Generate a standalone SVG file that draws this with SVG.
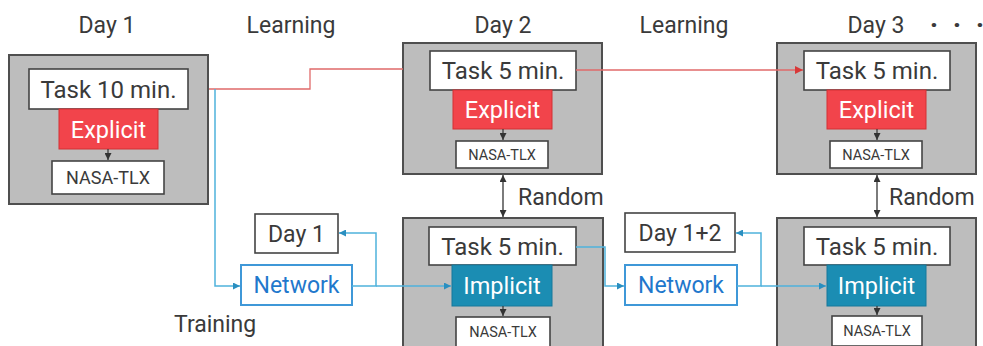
<svg xmlns="http://www.w3.org/2000/svg" width="983" height="346" viewBox="0 0 983 346">
  <defs>
    <marker id="ah-dark" viewBox="0 0 10 10" refX="10" refY="5" markerWidth="7" markerHeight="7" markerUnits="userSpaceOnUse" orient="auto-start-reverse">
      <path d="M0,0 L10,5 L0,10 z" fill="#333"/>
    </marker>
    <marker id="ah-blue" viewBox="0 0 10 10" refX="10" refY="5" markerWidth="7" markerHeight="7" markerUnits="userSpaceOnUse" orient="auto">
      <path d="M0,0 L10,5 L0,10 z" fill="#2a8fc0"/>
    </marker>
    <marker id="ah-red" viewBox="0 0 10 10" refX="10" refY="5" markerWidth="8" markerHeight="8" markerUnits="userSpaceOnUse" orient="auto">
      <path d="M0,0 L10,5 L0,10 z" fill="#d83838"/>
    </marker>
    <style>
      text { font-family: Roboto, "Liberation Sans", sans-serif; fill: #3a3a3a; }
      .hdr { font-size: 23px; text-anchor: middle; }
      .lbl { font-size: 23px; }
      .day { fill: #bdbdbd; stroke: #4f4f4f; stroke-width: 2; }
      .task { fill: #fff; stroke: #444; stroke-width: 1.6; }
      .task-t { font-size: 24px; text-anchor: middle; }
      .expl { fill: #f2444b; stroke: #d33035; stroke-width: 1; }
      .impl { fill: #1b8db3; stroke: #16799b; stroke-width: 1; }
      .mode-t { font-size: 23.5px; text-anchor: middle; fill: #fff; }
      .tlx { fill: #fff; stroke: #444; stroke-width: 1.6; }
      .tlx-t { text-anchor: middle; }
      .net { fill: #fff; stroke: #3f98d8; stroke-width: 2; }
      .net-t { font-size: 23px; text-anchor: middle; fill: #1f78cc; }
      .plain { fill: #fff; stroke: #444; stroke-width: 1.6; }
      .short { stroke: #333; stroke-width: 1.2; fill: none; marker-end: url(#ah-dark); }
      .rand { stroke: #444; stroke-width: 1.4; fill: none; marker-start: url(#ah-dark); marker-end: url(#ah-dark); }
      .redl { stroke: #e06a6a; stroke-width: 1.3; fill: none; }
      .bluel { stroke: #4fb2dc; stroke-width: 1.5; fill: none; }
    </style>
  </defs>

  <!-- headers and free labels -->
  <g id="headers">
    <text class="hdr" x="107" y="33">Day 1</text>
    <text class="hdr" x="291" y="33">Learning</text>
    <text class="hdr" x="503" y="33">Day 2</text>
    <text class="hdr" x="684" y="33">Learning</text>
    <text class="hdr" x="876" y="33">Day 3</text>
    <text class="hdr" x="934 957 980" y="34" style="text-anchor:middle;font-size:28px;font-weight:bold">···</text>
    <text class="lbl" x="174" y="332">Training</text>
    <text class="lbl" x="518" y="205">Random</text>
    <text class="lbl" x="889" y="205">Random</text>
  </g>

  <!-- Day 1 -->
  <g id="day1">
    <rect class="day" x="9" y="55" width="199" height="149"/>
    <rect class="task" x="29" y="69" width="159" height="40"/>
    <text class="task-t" x="108.5" y="97.5">Task 10 min.</text>
    <rect class="expl" x="59" y="109" width="99" height="40"/>
    <text class="mode-t" x="108.5" y="137.5">Explicit</text>
    <line class="short" x1="108" y1="149" x2="108" y2="160"/>
    <rect class="tlx" x="52" y="161" width="112" height="33"/>
    <text class="tlx-t" x="108" y="184" font-size="18">NASA-TLX</text>
  </g>

  <!-- Day 2 explicit -->
  <g id="day2-explicit">
    <rect class="day" x="403" y="43" width="199" height="131"/>
    <rect class="task" x="430" y="51" width="146" height="39"/>
    <text class="task-t" x="503" y="79">Task 5 min.</text>
    <rect class="expl" x="453" y="90" width="99" height="39"/>
    <text class="mode-t" x="502.5" y="118">Explicit</text>
    <line class="short" x1="503" y1="129" x2="503" y2="140"/>
    <rect class="tlx" x="456" y="141" width="92" height="27"/>
    <text class="tlx-t" x="502" y="159.5" font-size="14.5">NASA-TLX</text>
  </g>

  <!-- Day 2 implicit -->
  <g id="day2-implicit">
    <rect class="day" x="403" y="218" width="200" height="140"/>
    <rect class="task" x="429" y="227" width="147" height="38"/>
    <text class="task-t" x="502.5" y="254.5">Task 5 min.</text>
    <rect class="impl" x="452" y="265" width="100" height="41"/>
    <text class="mode-t" x="502" y="294">Implicit</text>
    <line class="short" x1="503" y1="306" x2="503" y2="316"/>
    <rect class="tlx" x="456" y="317" width="94" height="30"/>
    <text class="tlx-t" x="503" y="337" font-size="14.5">NASA-TLX</text>
  </g>

  <!-- Day 3 explicit -->
  <g id="day3-explicit">
    <rect class="day" x="777" y="43" width="199" height="131"/>
    <rect class="task" x="804" y="51" width="146" height="39"/>
    <text class="task-t" x="877" y="79">Task 5 min.</text>
    <rect class="expl" x="827" y="90" width="99" height="39"/>
    <text class="mode-t" x="876.5" y="118">Explicit</text>
    <line class="short" x1="877" y1="129" x2="877" y2="140"/>
    <rect class="tlx" x="830" y="141" width="92" height="27"/>
    <text class="tlx-t" x="876" y="159.5" font-size="14.5">NASA-TLX</text>
  </g>

  <!-- Day 3 implicit -->
  <g id="day3-implicit">
    <rect class="day" x="777" y="218" width="199" height="140"/>
    <rect class="task" x="804" y="227" width="146" height="38"/>
    <text class="task-t" x="877" y="254.5">Task 5 min.</text>
    <rect class="impl" x="827" y="265" width="99" height="41"/>
    <text class="mode-t" x="876.5" y="294">Implicit</text>
    <line class="short" x1="877" y1="306" x2="877" y2="315"/>
    <rect class="tlx" x="832" y="316" width="90" height="30"/>
    <text class="tlx-t" x="877" y="336" font-size="14.5">NASA-TLX</text>
  </g>

  <!-- networks and training sets -->
  <g id="network1">
    <rect class="net" x="241" y="265" width="111" height="40"/>
    <text class="net-t" x="296.5" y="293">Network</text>
  </g>
  <g id="data-day1">
    <rect class="plain" x="255" y="214" width="83" height="39"/>
    <text class="task-t" x="296.5" y="241.5" style="font-size:23px">Day 1</text>
  </g>
  <g id="network2">
    <rect class="net" x="625" y="265" width="112" height="40"/>
    <text class="net-t" x="681" y="293">Network</text>
  </g>
  <g id="data-day12">
    <rect class="plain" x="625" y="213" width="110" height="39"/>
    <text class="task-t" x="680" y="240.5" style="font-size:23px">Day 1+2</text>
  </g>

  <!-- connectors, drawn over the day panels -->
  <g id="connectors">
    <!-- explicit chain -->
    <polyline class="redl" points="209,89 310,89 310,69 403,69"/>
    <line class="redl" x1="576" y1="70" x2="803" y2="70" marker-end="url(#ah-red)"/>
    <!-- training path -->
    <polyline class="bluel" points="215,89 215,286 240,286" marker-end="url(#ah-blue)"/>
    <polyline class="bluel" points="352,286 376,286 376,233 339,233" marker-end="url(#ah-blue)"/>
    <line class="bluel" x1="376" y1="286" x2="451" y2="286" marker-end="url(#ah-blue)"/>
    <polyline class="bluel" points="576,247 605,247 605,286 624,286" marker-end="url(#ah-blue)"/>
    <polyline class="bluel" points="737,286 761,286 761,233 736,233" marker-end="url(#ah-blue)"/>
    <line class="bluel" x1="761" y1="286" x2="826" y2="286" marker-end="url(#ah-blue)"/>
    <!-- random swaps -->
    <line class="rand" x1="503" y1="175" x2="503" y2="217"/>
    <line class="rand" x1="877" y1="175" x2="877" y2="217"/>
  </g>
</svg>
